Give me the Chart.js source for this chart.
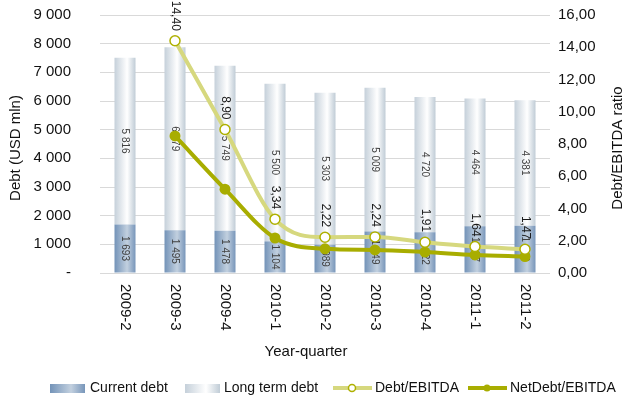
<!DOCTYPE html>
<html>
<head>
<meta charset="utf-8">
<script src="https://cdn.jsdelivr.net/npm/chart.js@4/dist/chart.umd.min.js"></script>
<style>
  html, body { margin: 0; padding: 0; background: #fff; }
  #wrap { width: 629px; height: 401px; }
</style>
</head>
<body>
<div id="wrap"><canvas id="debtChart" width="629" height="401"></canvas></div>
<script>
// chart data
const quarters = ["2009-2", "2009-3", "2009-4", "2010-1", "2010-2", "2010-3", "2010-4", "2011-1", "2011-2"];
const currentDebt = [1693, 1495, 1478, 1104, 989, 1449, 1422, 1627, 1649];
const longTermDebt = [5816, 6379, 5749, 5500, 5303, 5009, 4720, 4464, 4381];
const debtEbitda = [null, 14.40, 8.90, 3.34, 2.22, 2.24, 1.91, 1.64, 1.47];
const netDebtEbitda = [null, 8.5, 5.2, 2.17, 1.5, 1.43, 1.3, 1.12, 1.02];
const debtTicks = [0, 1000, 2000, 3000, 4000, 5000, 6000, 7000, 8000, 9000];
const ratioTicks = [0, 2, 4, 6, 8, 10, 12, 14, 16];

const FONT = "'Liberation Sans', Arial, sans-serif";
const BAR_W = 21;

function fmtThousands(n) {
  return String(n).replace(/\B(?=(\d{3})+(?!\d))/g, " ");
}
function fmtRatio(v) {
  return v.toFixed(2).replace(".", ",");
}

// horizontal gradients like the cylinder-ish bars
function barGradient(ctx, x, stops) {
  const g = ctx.createLinearGradient(x - BAR_W / 2, 0, x + BAR_W / 2, 0);
  stops.forEach((s) => g.addColorStop(s[0], s[1]));
  return g;
}
const currentStops = [[0, "#7393b8"], [0.6, "#c2d0df"], [1, "#7896ba"]];
const longStops = [[0, "#c5d0da"], [0.6, "#ffffff"], [1, "#c0ccd6"]];

function scriptedBar(stops, fallback) {
  return function (context) {
    const chart = context.chart;
    if (!chart.chartArea || !chart.scales.x) return fallback;
    const x = chart.scales.x.getPixelForValue(context.dataIndex);
    return barGradient(chart.ctx, x, stops);
  };
}

// draws rotated labels, axis titles and the legend
const decorPlugin = {
  id: "decor",
  afterDatasetDraw(chart, args) {
    const ds = chart.data.datasets[args.index];
    if (ds.type !== "bar") return;
    const ctx = chart.ctx;
    ctx.save();
    ctx.font = "10px " + FONT;
    ctx.fillStyle = "#404040";
    ctx.textAlign = "center";
    ctx.textBaseline = "middle";
    args.meta.data.forEach((bar, i) => {
      const v = ds.data[i];
      if (v == null) return;
      const p = bar.getProps(["x", "y", "base"], true);
      const cy = (p.y + p.base) / 2;
      ctx.save();
      ctx.translate(p.x, cy);
      ctx.rotate(Math.PI / 2);
      ctx.fillText(fmtThousands(v), 0, 0);
      ctx.restore();
    });
    ctx.restore();
  },
  afterDraw(chart) {
    const ctx = chart.ctx;
    const area = chart.chartArea;
    const xs = chart.scales.x;

    // Debt/EBITDA values above points
    const meta = chart.getDatasetMeta(0);
    ctx.save();
    ctx.font = "12px " + FONT;
    ctx.fillStyle = "#1a1a1a";
    ctx.textAlign = "right";
    ctx.textBaseline = "middle";
    meta.data.forEach((pt, i) => {
      const v = debtEbitda[i];
      if (v == null) return;
      ctx.save();
      ctx.translate(pt.x, pt.y - 10);
      ctx.rotate(Math.PI / 2);
      ctx.fillText(fmtRatio(v), 0, 0);
      ctx.restore();
    });
    ctx.restore();

    // x tick labels, reading downwards
    ctx.save();
    ctx.font = "15px " + FONT;
    ctx.fillStyle = "#111";
    ctx.textAlign = "left";
    ctx.textBaseline = "middle";
    quarters.forEach((q, i) => {
      ctx.save();
      ctx.translate(xs.getPixelForValue(i), area.bottom + 11);
      ctx.rotate(Math.PI / 2);
      ctx.fillText(q, 0, 0);
      ctx.restore();
    });

    // axis titles
    ctx.textAlign = "center";
    ctx.fillText("Year-quarter", 306, 352);
    const midY = 148;
    [[16, "Debt (USD mln)"], [618, "Debt/EBITDA ratio"]].forEach((t) => {
      ctx.save();
      ctx.translate(t[0], midY);
      ctx.rotate(-Math.PI / 2);
      ctx.fillText(t[1], 0, 0);
      ctx.restore();
    });
    ctx.restore();

    // legend
    const ly = 388;
    ctx.save();
    ctx.font = "14px " + FONT;
    ctx.fillStyle = "#111";
    ctx.textAlign = "left";
    ctx.textBaseline = "middle";

    let g = ctx.createLinearGradient(50, 0, 85, 0);
    currentStops.forEach((s) => g.addColorStop(s[0], s[1]));
    ctx.fillStyle = g;
    ctx.fillRect(50, ly - 4, 35, 9);
    ctx.fillStyle = "#111";
    ctx.fillText("Current debt", 90, ly);

    g = ctx.createLinearGradient(185, 0, 220, 0);
    longStops.forEach((s) => g.addColorStop(s[0], s[1]));
    ctx.fillStyle = g;
    ctx.fillRect(185, ly - 4, 35, 9);
    ctx.fillStyle = "#111";
    ctx.fillText("Long term debt", 224, ly);

    ctx.lineWidth = 4;
    ctx.strokeStyle = "#d6d87e";
    ctx.beginPath(); ctx.moveTo(333, ly); ctx.lineTo(372, ly); ctx.stroke();
    ctx.beginPath(); ctx.arc(352, ly, 3.5, 0, Math.PI * 2);
    ctx.fillStyle = "#fff"; ctx.fill();
    ctx.lineWidth = 1.5; ctx.strokeStyle = "#aeb000"; ctx.stroke();
    ctx.fillStyle = "#111";
    ctx.fillText("Debt/EBITDA", 375, ly);

    ctx.lineWidth = 4;
    ctx.strokeStyle = "#a8ad00";
    ctx.beginPath(); ctx.moveTo(468, ly); ctx.lineTo(507, ly); ctx.stroke();
    ctx.beginPath(); ctx.arc(487, ly, 3.5, 0, Math.PI * 2);
    ctx.fillStyle = "#a8ad00"; ctx.fill();
    ctx.fillStyle = "#111";
    ctx.fillText("NetDebt/EBITDA", 510, ly);
    ctx.restore();
  },
};

new Chart(document.getElementById("debtChart"), {
  data: {
    labels: quarters,
    datasets: [
      {
        type: "line",
        label: "Debt/EBITDA",
        data: debtEbitda,
        yAxisID: "y1",
        order: 0,
        borderColor: "#d6d87e",
        borderWidth: 4,
        pointRadius: 5,
        pointBorderWidth: 1.5,
        pointBackgroundColor: "#ffffff",
        pointBorderColor: "#aeb000",
        cubicInterpolationMode: "monotone",
      },
      {
        type: "line",
        label: "NetDebt/EBITDA",
        data: netDebtEbitda,
        yAxisID: "y1",
        order: 1,
        borderColor: "#a8ad00",
        borderWidth: 4,
        pointRadius: 5.5,
        pointBorderWidth: 0,
        pointBackgroundColor: "#a8ad00",
        cubicInterpolationMode: "monotone",
      },
      {
        type: "bar",
        label: "Current debt",
        data: currentDebt,
        yAxisID: "y",
        order: 2,
        backgroundColor: scriptedBar(currentStops, "#8fa8c6"),
        categoryPercentage: 1,
        barPercentage: 0.42,
      },
      {
        type: "bar",
        label: "Long term debt",
        data: longTermDebt,
        yAxisID: "y",
        order: 2,
        backgroundColor: scriptedBar(longStops, "#e4eaf0"),
        categoryPercentage: 1,
        barPercentage: 0.42,
      },
    ],
  },
  options: {
    responsive: false,
    animation: false,
    devicePixelRatio: 1,
    layout: { padding: { top: 15, left: 0, right: 0, bottom: 0 } },
    plugins: {
      legend: { display: false },
      tooltip: { enabled: false },
    },
    scales: {
      x: {
        stacked: true,
        grid: { display: false },
        border: { display: false },
        ticks: { display: false },
        afterFit: (scale) => { scale.height = 128; },
      },
      y: {
        stacked: true,
        position: "left",
        min: 0,
        max: 9000,
        afterBuildTicks: (scale) => { scale.ticks = debtTicks.map((v) => ({ value: v })); },
        // invisible tick marks push the labels away from the plot without adding top padding
        grid: { color: "#d9d9d9", lineWidth: 1, drawTicks: true, tickLength: 27, tickColor: "rgba(0,0,0,0)" },
        border: { display: false },
        ticks: {
          padding: 2,
          color: "#111",
          font: { family: FONT, size: 15 },
          callback: (v) => (v === 0 ? "-" : fmtThousands(v)),
        },
        afterFit: (scale) => { scale.width = 100; },
      },
      y1: {
        position: "right",
        min: 0,
        max: 16,
        afterBuildTicks: (scale) => { scale.ticks = ratioTicks.map((v) => ({ value: v })); },
        grid: { display: false, drawTicks: true, tickLength: 6 },
        border: { display: false },
        ticks: {
          padding: 2,
          color: "#111",
          font: { family: FONT, size: 15 },
          callback: (v) => fmtRatio(v),
        },
        afterFit: (scale) => { scale.width = 79; },
      },
    },
  },
  plugins: [decorPlugin],
});
</script>
</body>
</html>
